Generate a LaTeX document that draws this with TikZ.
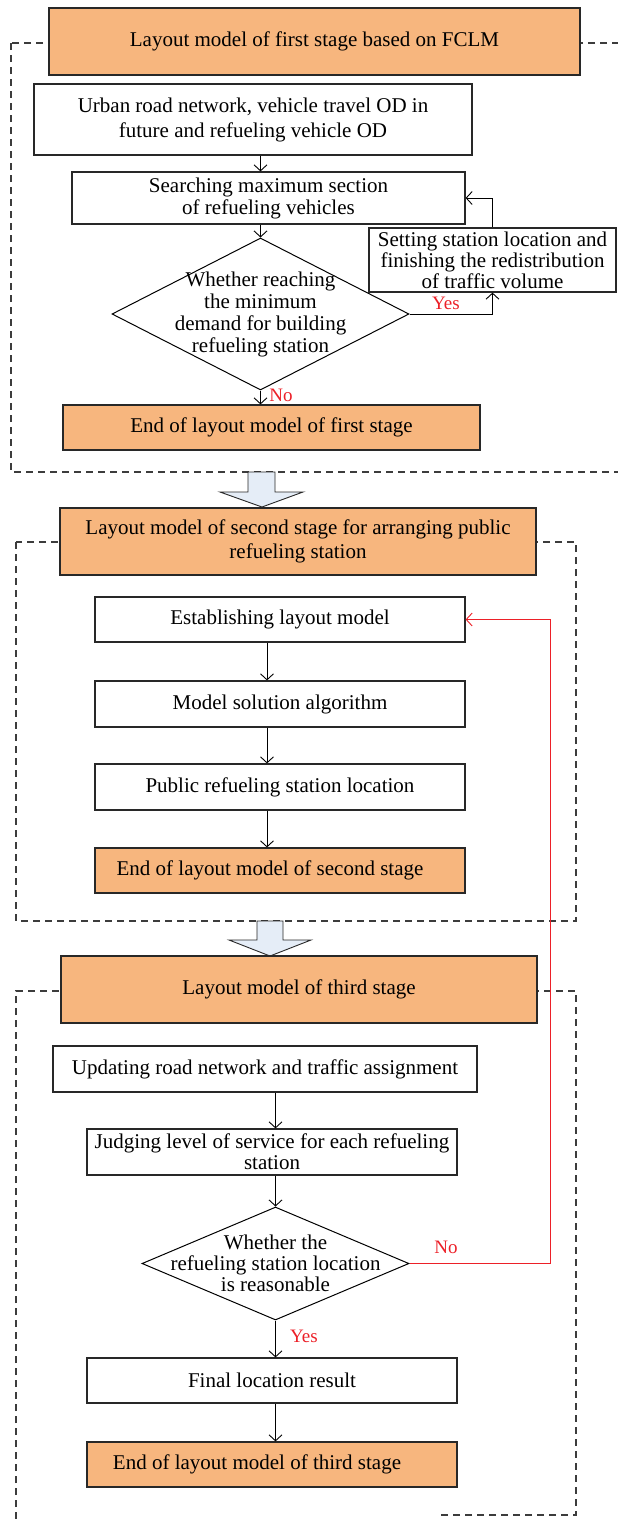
\documentclass[tikz,border=0pt]{standalone}
\usepackage{fontspec}
\setmainfont{Liberation Serif}
\usetikzlibrary{shapes.geometric,arrows.meta}
\definecolor{orfill}{RGB}{247,182,126}
\definecolor{bafill}{RGB}{229,237,247}
\definecolor{redln}{RGB}{236,32,40}
\definecolor{bord}{RGB}{40,40,40}
\definecolor{frm}{RGB}{60,60,60}
\tikzset{
  txt/.style={font=\fontsize{21}{22}\selectfont, text=black},
  box/.style={txt, draw=bord, line width=1.2pt, rectangle, inner sep=0pt, align=center, fill=white},
  obox/.style={box, fill=orfill},
  dbox/.style={txt, draw=black, line width=1pt, diamond, inner sep=-40pt, align=center, fill=white},
  arr/.style={draw=black, line width=0.9pt, -{Straight Barb[length=6pt,width=13pt]}},
  rarr/.style={draw=redln, line width=0.9pt, -{Straight Barb[length=6pt,width=13pt]}},
  frame/.style={draw=frm, line width=1.1pt, dash pattern=on 7pt off 5pt},
  blockarrow/.style={draw=bord, line width=0.9pt, fill=bafill},
  lab/.style={font=\fontsize{19}{20}\selectfont, text=redln, inner sep=0pt}
}
\begin{document}
\begin{tikzpicture}[x=1pt,y=-1pt]
\useasboundingbox (0,0) rectangle (618,1519);
\clip (0,0) rectangle (618,1519);
% dashed frames
\draw[frame] (11,43) rectangle (660,472);
\draw[frame] (16,542) rectangle (576,921);
\draw[frame] (16,1519) -- (16,991) -- (576,991) -- (576,1515) -- (441,1515);
% block arrows
\draw[blockarrow] (248,472) -- (275,472) -- (275,492) -- (303,492) -- (262,507) -- (220,492) -- (248,492) -- cycle;
\draw[blockarrow] (257,921) -- (283,921) -- (283,940) -- (311,940) -- (270,956) -- (229,940) -- (257,940) -- cycle;
% stage 1
\node[obox, minimum width=531, minimum height=67] (t1) at (314.5,41.5) {Layout model of first stage based on FCLM};
\node[box, minimum width=438, minimum height=71, font=\fontsize{21}{25}\selectfont] (urban) at (253,119.5) {Urban road network, vehicle travel OD in\\future and refueling vehicle OD};
\node[box, minimum width=393, minimum height=52] (search) at (268.5,198) {Searching maximum section\\of refueling vehicles};
\node[dbox, minimum width=297, minimum height=152] (d1) at (260.5,314) {Whether reaching\\the minimum\\demand for building\\refueling station};
\node[box, minimum width=247, minimum height=64, font=\fontsize{21}{21}\selectfont] (set) at (492.5,260) {Setting station location and\\finishing the redistribution\\of traffic volume};
\node[obox, minimum width=417, minimum height=45] (end1) at (271.5,427.5) {End of layout model of first stage};
% stage 2
\node[obox, minimum width=476, minimum height=67, font=\fontsize{21}{24}\selectfont] (t2) at (298,541.5) {Layout model of second stage for arranging public\\refueling station};
\node[box, minimum width=370, minimum height=45] (est) at (280,619.5) {Establishing layout model};
\node[box, minimum width=370, minimum height=46] (model) at (280,704) {Model solution algorithm};
\node[box, minimum width=370, minimum height=46] (pub) at (280,787) {Public refueling station location};
\node[obox, minimum width=370, minimum height=45] (end2) at (280,870.5) {End of layout model of second stage\rule{20pt}{0pt}};
% stage 3
\node[obox, minimum width=476, minimum height=67] (t3) at (299,989.5) {Layout model of third stage};
\node[box, minimum width=424, minimum height=46] (upd) at (265,1069) {Updating road network and traffic assignment};
\node[box, minimum width=370, minimum height=46, font=\fontsize{21}{21}\selectfont] (judge) at (272,1152) {Judging level of service for each refueling\\station};
\node[dbox, minimum width=267, minimum height=113, font=\fontsize{21}{21}\selectfont] (d2) at (275.5,1263.5) {Whether the\\refueling station location\\is reasonable};
\node[box, minimum width=370, minimum height=45] (final) at (272,1380.5) {Final location result};
\node[obox, minimum width=370, minimum height=45] (end3) at (272,1464.5) {End of layout model of third stage\rule{30pt}{0pt}};
% helper coordinates
\coordinate (ax2) at (267,0);
\coordinate (rx) at (550,0);
% connectors stage 1
\draw[arr] (urban.south -| d1.north) -- (search.north -| d1.north);
\draw[arr] (search.south -| d1.north) -- (d1.north);
\draw[arr] (d1.east) -| (set.south);
\draw[arr] (set.north) |- (search.east);
\draw[arr] (d1.south) -- (d1.south |- end1.north);
% connectors stage 2
\draw[arr] (est.south -| ax2) -- (model.north -| ax2);
\draw[arr] (model.south -| ax2) -- (pub.north -| ax2);
\draw[arr] (pub.south -| ax2) -- (end2.north -| ax2);
% connectors stage 3
\draw[arr] (upd.south -| d2.north) -- (judge.north -| d2.north);
\draw[arr] (judge.south -| d2.north) -- (d2.north);
\draw[arr] (d2.south) -- (d2.south |- final.north);
\draw[arr] (final.south -| d2.north) -- (end3.north -| d2.north);
\draw[rarr] (d2.east) -- (d2.east -| rx) |- (est.east);
% labels
\node[lab] (yes1) at (446,303) {Yes};
\node[lab] (no1) at (281,395) {No};
\node[lab] (no2) at (446,1247) {No};
\node[lab] (yes2) at (304,1336) {Yes};
\end{tikzpicture}
\end{document}
